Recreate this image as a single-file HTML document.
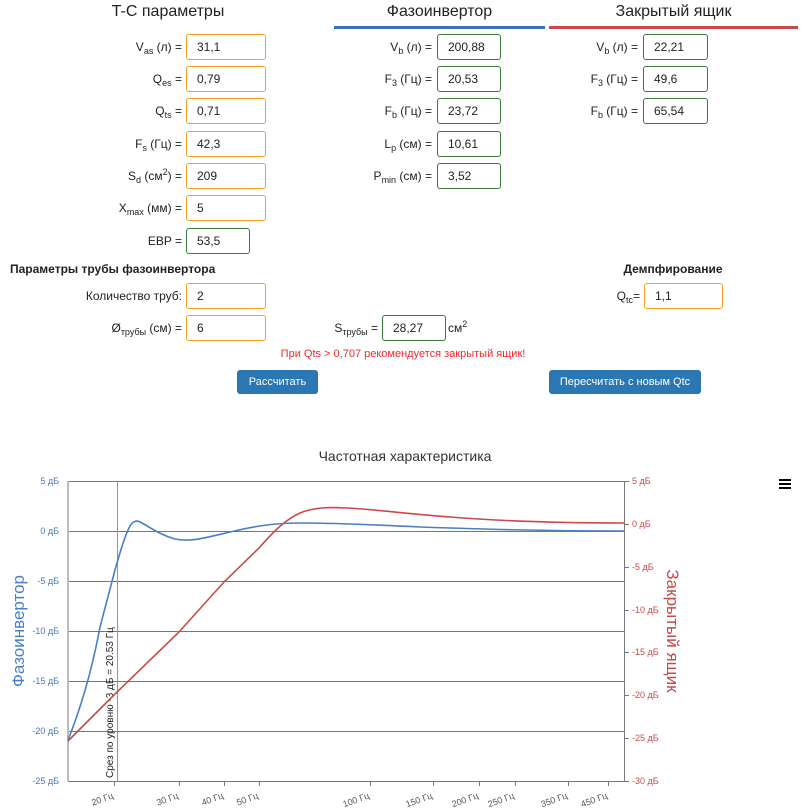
<!DOCTYPE html>
<html><head><meta charset="utf-8"><style>
body{margin:0;width:806px;height:811px;background:#fff;font-family:"Liberation Sans","Noto Sans CJK SC",sans-serif;color:#222;position:relative;overflow:hidden}
.a{position:absolute}
.h{font-size:16px;text-align:center}
.l{position:absolute;text-align:right;font-size:12px;line-height:26px}
.i{position:absolute;height:24px;border:1px solid #f7a11a;border-radius:3px;font-size:12px;line-height:24px;padding-left:10px;box-sizing:content-box}
.g{border-color:#3a7d3a}
sub{font-size:9px;vertical-align:-3px;line-height:0}
sup{font-size:9px;line-height:0}
.btn{position:absolute;background:#2b77b4;color:#fff;font-size:11px;text-align:center;line-height:24px;border-radius:3px;height:24px}
.b{font-size:12px;font-weight:bold}
</style></head><body>
<div class="a h" style="left:68px;width:200px;top:3px">T-C параметры</div>
<div class="a h" style="left:334px;width:211px;top:3px">Фазоинвертор</div>
<div class="a" style="left:334px;width:211px;top:26px;height:3px;background:#3b73b8"></div>
<div class="a h" style="left:549px;width:249px;top:3px">Закрытый ящик</div>
<div class="a" style="left:549px;width:249px;top:26px;height:3px;background:#c84a4a"></div>

<div class="l" style="left:0;width:182px;top:34px">V<sub>as</sub> (л) =</div><div class="i" style="left:186px;top:34px;width:68px">31,1</div>
<div class="l" style="left:0;width:182px;top:66px">Q<sub>es</sub> =</div><div class="i" style="left:186px;top:66px;width:68px">0,79</div>
<div class="l" style="left:0;width:182px;top:98px">Q<sub>ts</sub> =</div><div class="i" style="left:186px;top:98px;width:68px">0,71</div>
<div class="l" style="left:0;width:182px;top:131px">F<sub>s</sub> (Гц) =</div><div class="i" style="left:186px;top:131px;width:68px">42,3</div>
<div class="l" style="left:0;width:182px;top:163px">S<sub>d</sub> (см<sup>2</sup>) =</div><div class="i" style="left:186px;top:163px;width:68px">209</div>
<div class="l" style="left:0;width:182px;top:195px">X<sub>max</sub> (мм) =</div><div class="i" style="left:186px;top:195px;width:68px">5</div>
<div class="l" style="left:0;width:182px;top:228px">EBP =</div><div class="i g" style="left:186px;top:228px;width:52px">53,5</div>

<div class="l" style="left:300px;width:132px;top:34px">V<sub>b</sub> (л) =</div><div class="i g" style="left:437px;top:34px;width:52px">200,88</div>
<div class="l" style="left:300px;width:132px;top:66px">F<sub>3</sub> (Гц) =</div><div class="i g" style="left:437px;top:66px;width:52px">20,53</div>
<div class="l" style="left:300px;width:132px;top:98px">F<sub>b</sub> (Гц) =</div><div class="i g" style="left:437px;top:98px;width:52px">23,72</div>
<div class="l" style="left:300px;width:132px;top:131px">L<sub>p</sub> (см) =</div><div class="i g" style="left:437px;top:131px;width:52px">10,61</div>
<div class="l" style="left:300px;width:132px;top:163px">P<sub>min</sub> (см) =</div><div class="i g" style="left:437px;top:163px;width:52px">3,52</div>

<div class="l" style="left:540px;width:98px;top:34px">V<sub>b</sub> (л) =</div><div class="i g" style="left:643px;top:34px;width:53px">22,21</div>
<div class="l" style="left:540px;width:98px;top:66px">F<sub>3</sub> (Гц) =</div><div class="i g" style="left:643px;top:66px;width:53px">49,6</div>
<div class="l" style="left:540px;width:98px;top:98px">F<sub>b</sub> (Гц) =</div><div class="i g" style="left:643px;top:98px;width:53px">65,54</div>

<div class="a b" style="left:10px;top:262px">Параметры трубы фазоинвертора</div>
<div class="a b" style="left:573px;width:200px;text-align:center;top:262px">Демпфирование</div>
<div class="l" style="left:0;width:182px;top:283px">Количество труб:</div><div class="i" style="left:186px;top:283px;width:68px">2</div>
<div class="l" style="left:540px;width:100px;top:283px">Q<sub>tc</sub>=</div><div class="i" style="left:644px;top:283px;width:67px">1,1</div>
<div class="l" style="left:0;width:182px;top:315px">Ø<sub>трубы</sub> (см) =</div><div class="i" style="left:186px;top:315px;width:68px">6</div>
<div class="l" style="left:300px;width:78px;top:315px">S<sub>трубы</sub> =</div><div class="i g" style="left:382px;top:315px;width:52px">28,27</div>
<div class="l" style="left:448px;top:315px;text-align:left">см<sup>2</sup></div>
<div class="a" style="left:0;width:806px;text-align:center;top:348px;font-size:11px;color:#f02b2b">При Qts &gt; 0,707 рекомендуется закрытый ящик!</div>
<div class="btn" style="left:237px;top:370px;width:81px">Рассчитать</div>
<div class="btn" style="left:549px;top:370px;width:152px">Пересчитать с новым Qtc</div>

<svg class="a" style="left:0;top:0" width="806" height="811" font-family="Liberation Sans, sans-serif">
<text x="405" y="461" text-anchor="middle" font-size="14" fill="#333">Частотная характеристика</text>
<g fill="#000"><rect x="779" y="479" width="12" height="2"/><rect x="779" y="483" width="12" height="2"/><rect x="779" y="487" width="12" height="2"/></g>
<g stroke="#777" stroke-width="1">
<line x1="68" y1="481.5" x2="624" y2="481.5"/><line x1="68" y1="531.5" x2="624" y2="531.5"/><line x1="68" y1="581.5" x2="624" y2="581.5"/><line x1="68" y1="631.5" x2="624" y2="631.5"/><line x1="68" y1="681.5" x2="624" y2="681.5"/><line x1="68" y1="731.5" x2="624" y2="731.5"/><line x1="68" y1="781.5" x2="624" y2="781.5"/>
<line x1="624.5" y1="481" x2="624.5" y2="781"/>
</g>
<line x1="68" y1="481" x2="68" y2="781" stroke="#bbb" stroke-width="2"/>
<g stroke="#777"><line x1="114.5" y1="781" x2="114.5" y2="786"/><line x1="179.5" y1="781" x2="179.5" y2="786"/><line x1="224.5" y1="781" x2="224.5" y2="786"/><line x1="259.5" y1="781" x2="259.5" y2="786"/><line x1="370.5" y1="781" x2="370.5" y2="786"/><line x1="433.5" y1="781" x2="433.5" y2="786"/><line x1="479.5" y1="781" x2="479.5" y2="786"/><line x1="515.5" y1="781" x2="515.5" y2="786"/><line x1="568.5" y1="781" x2="568.5" y2="786"/><line x1="608.5" y1="781" x2="608.5" y2="786"/>
<line x1="624" y1="481.5" x2="629" y2="481.5"/><line x1="624" y1="524.5" x2="629" y2="524.5"/><line x1="624" y1="567.5" x2="629" y2="567.5"/><line x1="624" y1="610.5" x2="629" y2="610.5"/><line x1="624" y1="652.5" x2="629" y2="652.5"/><line x1="624" y1="695.5" x2="629" y2="695.5"/><line x1="624" y1="738.5" x2="629" y2="738.5"/><line x1="624" y1="781.5" x2="629" y2="781.5"/></g>
<g font-size="9" fill="#555" text-anchor="end">
<text transform="translate(114,798) rotate(-20)">20 Гц</text><text transform="translate(179,798) rotate(-20)">30 Гц</text><text transform="translate(224,798) rotate(-20)">40 Гц</text><text transform="translate(259,798) rotate(-20)">50 Гц</text><text transform="translate(370,798) rotate(-20)">100 Гц</text><text transform="translate(433,798) rotate(-20)">150 Гц</text><text transform="translate(479,798) rotate(-20)">200 Гц</text><text transform="translate(515,798) rotate(-20)">250 Гц</text><text transform="translate(568,798) rotate(-20)">350 Гц</text><text transform="translate(608,798) rotate(-20)">450 Гц</text>
</g>
<g font-size="9" fill="#4a78b8" text-anchor="end">
<text x="59" y="484">5 дБ</text><text x="59" y="534">0 дБ</text><text x="59" y="584">-5 дБ</text><text x="59" y="634">-10 дБ</text><text x="59" y="684">-15 дБ</text><text x="59" y="734">-20 дБ</text><text x="59" y="784">-25 дБ</text>
</g>
<g font-size="9" fill="#c84a4a">
<text x="632" y="484">5 дБ</text><text x="632" y="527">0 дБ</text><text x="632" y="570">-5 дБ</text><text x="632" y="613">-10 дБ</text><text x="632" y="655">-15 дБ</text><text x="632" y="698">-20 дБ</text><text x="632" y="741">-25 дБ</text><text x="632" y="784">-30 дБ</text>
</g>
<text transform="translate(24,631) rotate(-90)" text-anchor="middle" font-size="17" fill="#4a7fc4">Фазоинвертор</text>
<text transform="translate(667,631) rotate(90)" text-anchor="middle" font-size="17" fill="#c84a4a">Закрытый ящик</text>
<line x1="117.5" y1="481" x2="117.5" y2="781" stroke="#e8822a" stroke-width="1"/>
<text transform="translate(113,778) rotate(-90)" font-size="10" fill="#222">Срез по уровню -3 дБ = 20.53 Гц</text>
<path d="M68,741 L114,695 L179,632 L224,582 L259,548 C275,530 285,520 300,513 C315,507 330,507 347,508 C370,509 400,513 450,517 C500,521 560,523 624,523" fill="none" stroke="#c84a4a" stroke-width="1.6"/>
<path d="M68,740 C80,710 92,670 100,627 C107,600 111,585 115,570 C120,552 125,535 130,526 C133,521 137,520 140,522 C150,527 160,535 175,539 C190,542 200,539 230,532 C255,526 275,523 300,523 C340,523 380,525 420,527 C480,529 540,531 624,531" fill="none" stroke="#4a7fc4" stroke-width="1.6"/>
</svg>
</body></html>
